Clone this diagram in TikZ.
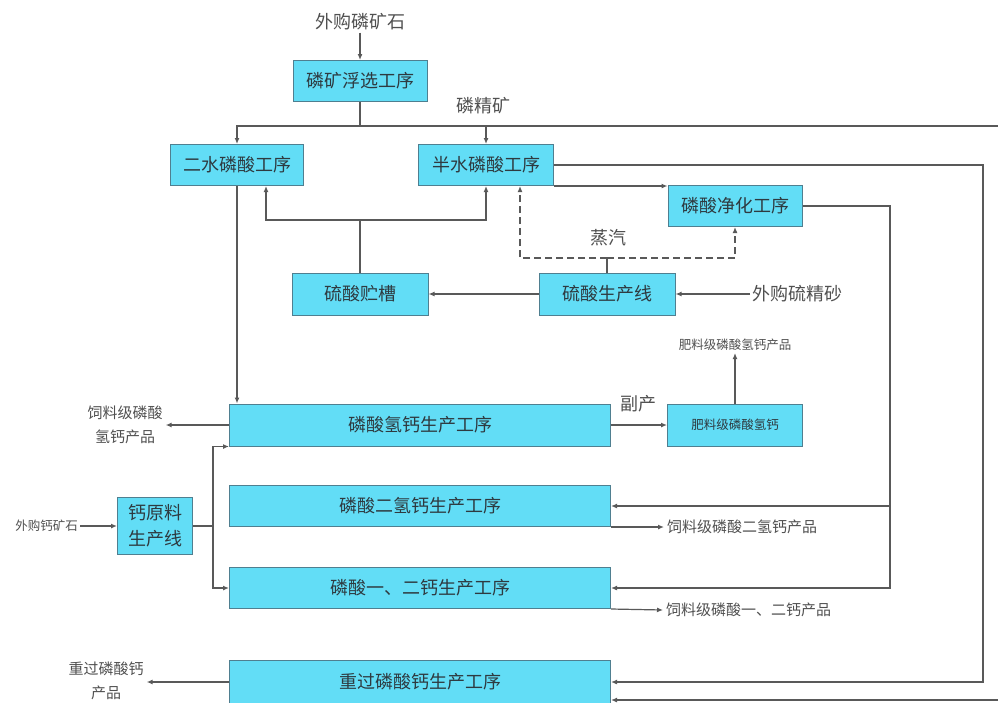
\documentclass[tikz,border=0pt]{standalone}
\usepackage{fontspec}
\setmainfont{Noto Sans CJK SC}
\usetikzlibrary{arrows.meta}
\definecolor{boxfill}{HTML}{62DDF6}
\definecolor{boxdraw}{HTML}{4F7F90}
\definecolor{lineclr}{HTML}{595959}
\definecolor{txt}{HTML}{2E3A40}
\definecolor{lbltxt}{HTML}{505050}
\begin{document}
\begin{tikzpicture}[x=1pt,y=-1pt,
 box/.style={draw=boxdraw, line width=1pt, fill=boxfill, inner sep=0pt, text=txt, font=\fontsize{18}{26}\selectfont, align=center},
 sbox/.style={box, font=\fontsize{12.5}{15}\selectfont},
 lbl/.style={text=lbltxt, inner sep=2pt, font=\fontsize{18}{20}\selectfont},
 mlbl/.style={text=lbltxt, inner sep=3pt, font=\fontsize{15}{24}\selectfont, align=center},
 slbl/.style={text=lbltxt, inner sep=2pt, font=\fontsize{12.5}{15}\selectfont},
 conn/.style={draw=lineclr, line width=1.2pt},
 arr/.style={conn, -{Latex[length=6pt,width=5pt]}},
]
\useasboundingbox[fill=white] (0,0) rectangle (998,702);

% boxes
\node[box, minimum width=134pt, minimum height=41pt] (fx) at (360,81) {磷矿浮选工序};
\node[box, minimum width=133pt, minimum height=41pt] (ew) at (237,165) {二水磷酸工序};
\node[box, minimum width=135pt, minimum height=41pt] (bs) at (486,165) {半水磷酸工序};
\node[box, minimum width=134pt, minimum height=41pt] (jh) at (735,206) {磷酸净化工序};
\node[box, minimum width=136pt, minimum height=42pt] (lsx) at (607,294) {硫酸生产线};
\node[box, minimum width=136pt, minimum height=42pt] (lc) at (360,294) {硫酸贮槽};
\node[box, minimum width=381pt, minimum height=42pt] (hg) at (420,425) {磷酸氢钙生产工序};
\node[sbox, minimum width=135pt, minimum height=42pt] (fl) at (735,425) {肥料级磷酸氢钙};
\node[box, minimum width=381pt, minimum height=41pt] (eq) at (420,506) {磷酸二氢钙生产工序};
\node[box, minimum width=381pt, minimum height=41pt] (yq) at (420,588) {磷酸一、二钙生产工序};
\node[box, minimum width=381pt, minimum height=44pt] (zg) at (420,682) {重过磷酸钙生产工序};
\node[box, minimum width=75pt, minimum height=57pt] (gy) at (155,526) {钙原料\\生产线};

% labels
\node[lbl] (ore) at (360,22) {外购磷矿石};
\node[lbl] at (483,106) {磷精矿};
\node[lbl] at (608,238) {蒸汽};
\node[lbl, anchor=west] (sj) at (750,294) {外购硫精砂};
\node[lbl] at (638,404) {副产};
\node[slbl] (flp) at (735,345) {肥料级磷酸氢钙产品};
\node[mlbl] (fs) at (125,425) {饲料级磷酸\\氢钙产品};
\node[slbl, anchor=east] (gks) at (80,526) {外购钙矿石};
\node[mlbl, anchor=west] (t2) at (664,527) {饲料级磷酸二氢钙产品};
\node[mlbl, anchor=west] (t3) at (663,610) {饲料级磷酸一、二钙产品};
\node[mlbl] (t4) at (106,681) {重过磷酸钙\\产品};

% coordinates
\coordinate (top) at (360,126);
\coordinate (mid) at (360,220);
\coordinate (st) at (607,258);
\coordinate (k) at (213,526);
\coordinate (jr) at (890,206);
\coordinate (jb) at (890,506);
\coordinate (br) at (983,165);
\coordinate (far) at (1010,126);

% connectors
\draw[arr] (ore) -- (fx);
\draw[arr] (fx.south) -- (top) -| (ew.north);
\draw[arr] (top) -| (bs.north);
\draw[arr] (top) -- (far) |- ([yshift=-18pt]zg.east);
\draw[arr] (bs.south east) -- (bs.south east -| jh.west);
\draw[arr] (bs.east) -- (br) |- (zg.east);
\draw[arr] (jh.east) -- (jr) |- (yq.east);
\draw[arr] (jb) -- (eq.east);
\draw[conn] (lsx.north) -- (st);
\draw[arr, dashed, dash pattern=on 7pt off 4pt] (st) -| ([xshift=34pt]bs.south);
\draw[arr, dashed, dash pattern=on 7pt off 4pt] (st) -| (jh.south);
\draw[arr] (lsx.west) -- (lc.east);
\draw[arr] (sj.west) -- (sj.west -| lsx.east);
\draw[arr] (lc.north) -- (mid) -| ([xshift=29pt]ew.south);
\draw[arr] (mid) -| (bs.south);
\draw[arr] (ew.south) -- (ew.south |- hg.north);
\draw[arr] (hg.east) -- (fl.west);
\draw[arr] (fl.north) -- (flp.south);
\draw[arr] (hg.west) -- (hg.west -| fs.east);
\draw[arr] (gks.east) -- (gy.west);
\draw[conn] (gy.east) -- (k);
\draw[arr] (k) |- (hg.south west);
\draw[arr] (k) |- (yq.west);
\draw[arr] (eq.south east) -- (eq.south east -| t2.west);
\draw[arr] (yq.south east) -- (t3.west);
\draw[arr] (zg.west) -- (zg.west -| t4.east);
\end{tikzpicture}
\end{document}
